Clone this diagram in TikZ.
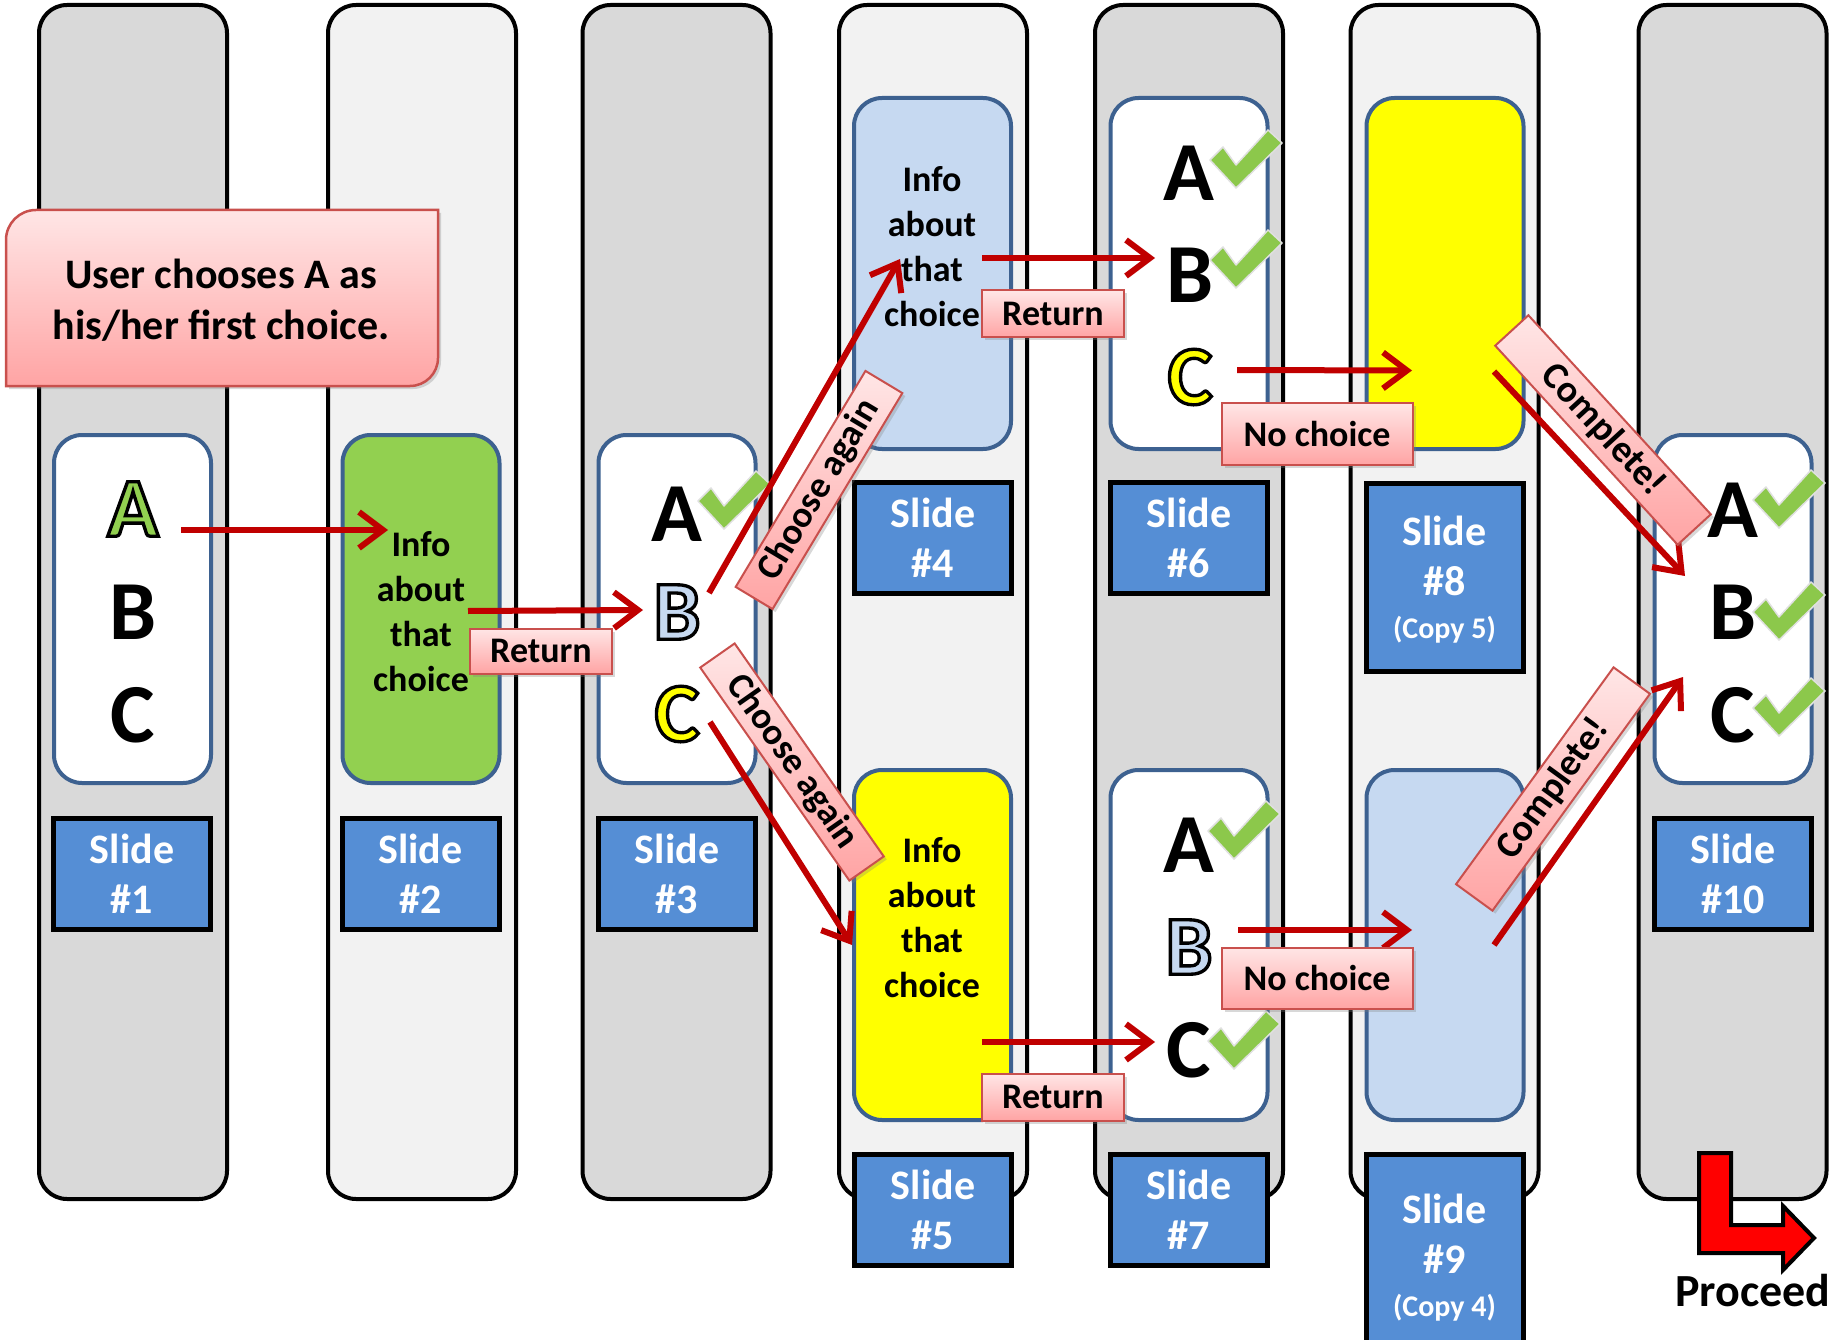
\documentclass[tikz,border=0pt]{standalone}
\usepackage{fontspec}
\setmainfont{Carlito}
\newfontfamily\rimfont{Carlito}[BoldFeatures={FakeBold=4}]
\usetikzlibrary{arrows.meta,shadows}

\definecolor{colgray}{HTML}{D9D9D9}
\definecolor{collight}{HTML}{F2F2F2}
\definecolor{panelblue}{HTML}{3D6190}
\definecolor{slideblue}{HTML}{558ED5}
\definecolor{infogreen}{HTML}{92D050}
\definecolor{infoblue}{HTML}{C6D9F1}
\definecolor{infoyellow}{HTML}{FFFF00}
\definecolor{tickgreen}{HTML}{8CC84B}
\definecolor{linkred}{HTML}{C00000}
\definecolor{tagtop}{HTML}{FFE6E6}
\definecolor{tagbottom}{HTML}{FFA4A4}
\definecolor{tagborder}{HTML}{C9504D}
\definecolor{proceedred}{HTML}{FF0000}

% letter filled with #1 (rgb), stroked black
\newcommand{\ringed}[2]{\special{pdf:bcolor [#1] [0 0 0]}{\rimfont #2}\special{pdf:ecolor}}

\begin{document}
\begin{tikzpicture}[x=1pt, y=-1pt,
    column/.style={draw=black, line width=4pt, rounded corners=28pt},
    panel/.style={draw=panelblue, line width=4pt, rounded corners=28pt, minimum width=157pt, inner sep=0pt},
    slide/.style={draw=black, line width=5pt, fill=slideblue, text=white, align=center,
        minimum width=157pt, minimum height=111pt, inner sep=0pt, font=\fontsize{42}{50}\selectfont\bfseries},
    letter/.style={inner sep=0pt, font=\fontsize{84}{84}\selectfont\bfseries},
    info/.style={inner sep=0pt, align=center, font=\fontsize{36}{45}\selectfont\bfseries},
    link/.style={draw=linkred, line width=6pt, -{Straight Barb[length=24pt, width=36pt]}},
    tag/.style={draw=tagborder, line width=2pt, top color=tagtop, bottom color=tagbottom, inner sep=0pt,
        font=\fontsize{36}{36}\selectfont\bfseries, drop shadow={opacity=0.3, shadow xshift=3pt, shadow yshift=-3pt}},
    tick/.pic={\filldraw[fill=tickgreen, draw=black!12, line width=1.5pt, line join=round]
        (-36,1) -- (-23,-12) -- (-10,6) -- (22,-29) -- (36,-16) -- (-10,29) -- cycle;}]

  \useasboundingbox (0,0) rectangle (1845,1340);
  \fill[white] (0,0) rectangle (1845,1340);
  \clip (0,0) rectangle (1845,1340);

  % columns
  \foreach \cx/\tone in {133/colgray, 422/collight, 676.5/colgray, 933/collight, 1189/colgray, 1444.5/collight, 1732.5/colgray}
    \draw[column, fill=\tone] (\cx-94,5) rectangle (\cx+94,1199);

  % slide panels
  \node[panel, fill=white, minimum height=348pt] (p1) at (132.5,609) {};
  \node[panel, fill=infogreen, minimum height=348pt] (p2) at (421,609) {};
  \node[panel, fill=white, minimum height=348pt] (p3) at (677,609) {};
  \node[panel, fill=infoblue, minimum height=351pt] (p4) at (932.5,273.5) {};
  \node[panel, fill=infoyellow, minimum height=350pt] (p5) at (932.5,945) {};
  \node[panel, fill=white, minimum height=351pt] (p6) at (1189,273.5) {};
  \node[panel, fill=white, minimum height=350pt] (p7) at (1189,945) {};
  \node[panel, fill=infoyellow, minimum height=351pt] (p8) at (1445,273.5) {};
  \node[panel, fill=infoblue, minimum height=350pt] (p9) at (1445,945) {};
  \node[panel, fill=white, minimum height=348pt] (p10) at (1733,609) {};

  % slide numbers
  \node[slide] (s1) at (132,874) {Slide\\\#1};
  \node[slide] (s2) at (420.5,874) {Slide\\\#2};
  \node[slide] (s3) at (677,874) {Slide\\\#3};
  \node[slide] (s4) at (933,537.5) {Slide\\\#4};
  \node[slide] (s5) at (933,1210) {Slide\\\#5};
  \node[slide] (s6) at (1189,537.5) {Slide\\\#6};
  \node[slide] (s7) at (1189,1210) {Slide\\\#7};
  \node[slide, minimum height=188pt, text depth=0pt] (s8) at (1444.5,577.5) {Slide\\\#8\\[-7pt]{\fontsize{30}{36}\selectfont(Copy 5)}};
  \node[slide, minimum height=207pt] (s9) at (1444.5,1258) {Slide\\\#9\\[-7pt]{\fontsize{30}{36}\selectfont(Copy 4)}};
  \node[slide] (s10) at (1733,874) {Slide\\\#10};

  % info texts
  \node[info] (info2) at (421,612) {Info\\about\\that\\choice};
  \node[info] (info4) at (932,247) {Info\\about\\that\\choice};
  \node[info] (info5) at (932,918) {Info\\about\\that\\choice};

  % choices
  \node[letter] (a1) at (133,509) {\ringed{0.573 0.816 0.314}{A}};
  \node[letter] (b1) at (133,612) {B};
  \node[letter] (c1) at (133,715) {C};
  \node[letter] (a3) at (677,514) {A};
  \node[letter] (b3) at (677,612) {\ringed{0.776 0.851 0.945}{B}};
  \node[letter] (c3) at (677,714) {\ringed{1 1 0}{C}};
  \node[letter] (a6) at (1189,173) {A};
  \node[letter] (b6) at (1190,275) {B};
  \node[letter] (c6) at (1190,377) {\ringed{1 1 0}{C}};
  \node[letter] (a7) at (1189,845) {A};
  \node[letter] (b7) at (1189,947) {\ringed{0.776 0.851 0.945}{B}};
  \node[letter] (c7) at (1189,1050) {C};
  \node[letter] (a10) at (1733,510) {A};
  \node[letter] (b10) at (1733,612) {B};
  \node[letter] (c10) at (1733,715) {C};

  \pic at ([shift={(57,-14)}]a3.center) {tick};
  \pic at ([shift={(57,-14)}]a6.center) {tick};
  \pic at ([shift={(56,-16)}]b6.center) {tick};
  \pic at ([shift={(55,-15)}]a7.center) {tick};
  \pic at ([shift={(55,-10)}]c7.center) {tick};
  \pic at ([shift={(56,-11)}]a10.center) {tick};
  \pic at ([shift={(56,-1)}]b10.center) {tick};
  \pic at ([shift={(56,-8)}]c10.center) {tick};

  % links
  \draw[link] ([shift={(48,21)}]a1.center) -- ([shift={(-33,-82)}]info2.center);
  \draw[link] ([shift={(47,-1)}]info2.center) -- ([shift={(-34,-2)}]b3.center);
  \draw[link] ([shift={(32,-19)}]b3.center) -- ([shift={(-32,12)}]info4.center);
  \draw[link] ([shift={(33,8)}]c3.center) -- (p5.west);
  \draw[link] ([shift={(50,11)}]info4.center) -- ([shift={(-35,-17)}]b6.center);
  \draw[link] ([shift={(47,-7)}]c6.center) -- ([shift={(-33,97)}]p8.center);
  \draw[link] ([shift={(50,124)}]info5.center) -- ([shift={(-34,-8)}]c7.center);
  \draw[link] ([shift={(49,-17)}]b7.center) -- ([shift={(-33,-15)}]p9.center);
  \draw[link] ([shift={(49,98)}]p8.center) -- ([shift={(-48,-36)}]b10.center);
  \draw[link] ([shift={(49,0)}]p9.center) -- ([shift={(-50,-38)}]c10.center);

  % link labels
  \node[tag, minimum width=142pt, minimum height=45pt] (ret2) at (541,651) {Return};
  \node[tag, minimum width=142pt, minimum height=47pt] (ret4) at (1053,314) {Return};
  \node[tag, minimum width=142pt, minimum height=47pt] (ret5) at (1053,1097) {Return};
  \node[tag, minimum width=191pt, minimum height=62pt] (none6) at (1317,434) {No choice};
  \node[tag, minimum width=191pt, minimum height=61pt] (none7) at (1317,978) {No choice};
  \node[tag, minimum width=252pt, minimum height=43pt, rotate=59, font=\fontsize{37}{37}\selectfont\bfseries] (again4) at (819,490) {Choose again};
  \node[tag, minimum width=260pt, minimum height=42pt, rotate=-55, font=\fontsize{37}{37}\selectfont\bfseries] (again5) at (792,762) {Choose again};
  \node[tag, minimum width=270pt, minimum height=45pt, rotate=-47.5, font=\fontsize{38}{38}\selectfont\bfseries] (done8) at (1603,430) {Complete!};
  \node[tag, minimum width=268pt, minimum height=45pt, rotate=54, font=\fontsize{38}{38}\selectfont\bfseries] (done9) at (1553,789) {Complete!};

  % callout
  \draw[draw=tagborder, line width=2.5pt, top color=tagtop, bottom color=tagbottom,
      drop shadow={opacity=0.3, shadow xshift=3pt, shadow yshift=-3pt}]
    (6,386) -- (6,240) arc[start angle=180, end angle=270, radius=30] -- (438,210)
    -- (438,358) arc[start angle=0, end angle=90, radius=28] -- cycle;
  \node[align=center, font=\fontsize{42}{51}\selectfont\bfseries] (note) at (221,300) {User chooses A as\\his/her first choice.};

  % proceed
  \filldraw[fill=proceedred, draw=black, line width=4pt]
    (1699,1153) -- (1731,1153) -- (1731,1225) -- (1783,1225) -- (1783,1206) -- (1814,1238)
    -- (1783,1270) -- (1783,1253) -- (1699,1253) -- cycle;
  \node[inner sep=0pt, font=\fontsize{46}{46}\selectfont\bfseries] (proceed) at (1753,1291) {Proceed};
\end{tikzpicture}
\end{document}
